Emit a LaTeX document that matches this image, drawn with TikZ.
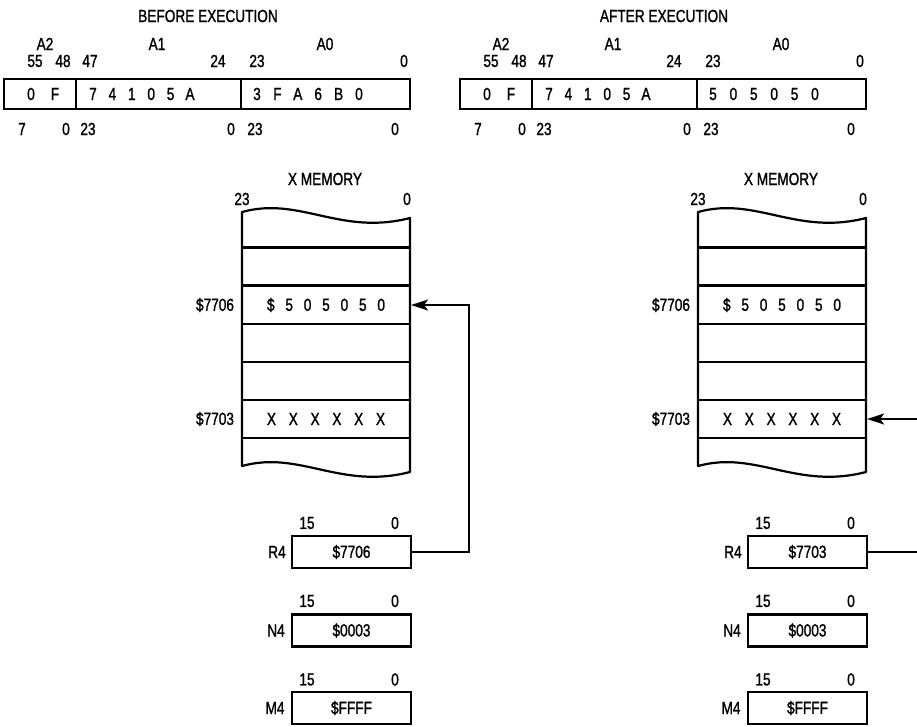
\documentclass[tikz,border=0pt]{standalone}
\usepackage{fontspec}
\setmainfont{Liberation Sans}[FakeStretch=0.78,FakeBold=1.2]
\usetikzlibrary{arrows.meta}
\newlength\cellw
\newcommand\cl[1]{\makebox[\cellw]{#1}}
\newcommand\fs{\fontsize{17.5}{20}\selectfont}
\tikzset{
  lbl/.style={inner sep=0pt, font=\fs},
  field/.style={draw, line width=2.2pt, minimum height=30pt, inner sep=0pt},
  memrow/.style={draw, line width=2.2pt, minimum width=168pt, minimum height=38pt, inner sep=0pt, font=\fs},
  regbox/.style={draw, line width=2.2pt, minimum width=119pt, minimum height=32pt, inner sep=0pt, font=\fs},
  memline/.style={line width=2.2pt, line join=round},
  conn/.style={line width=2pt, -{Stealth[length=17pt,width=11pt,inset=4pt]}},
}
% #1 suffix, #2 title, #3 A0 digits, #4 R4 value, #5 xshift
\newcommand\panel[5]{%
\begin{scope}[xshift=#5]
  \node[lbl] (title#1) at (208,16) {#2};
  \node[lbl] (a2#1) at (45,44) {A2};
  \node[lbl] (a1#1) at (157,44) {A1};
  \node[lbl] (a0#1) at (325,44) {A0};
  \node[lbl] (t55#1) at (35,61) {55};
  \node[lbl] (t48#1) at (63,61) {48};
  \node[lbl] (t47#1) at (90,61) {47};
  \node[lbl] (t24#1) at (218,61) {24};
  \node[lbl] (t23#1) at (257,61) {23};
  \node[lbl] (t0#1) at (404,61) {0};
  \node[field, minimum width=72pt] (fa2#1) at (40,94) {};
  \node[field, minimum width=165pt] (fa1#1) at (158.5,94) {};
  \node[field, minimum width=169pt] (fa0#1) at (325.5,94) {};
  \node[lbl] (da2#1) at (43,94) {\setlength\cellw{24pt}\cl{0}\cl{F}};
  \node[lbl] (da1#1) at (141.5,94) {\setlength\cellw{19.4pt}\cl{7}\cl{4}\cl{1}\cl{0}\cl{5}\cl{A}};
  \node[lbl] (da0#1) at (308,94) {\setlength\cellw{20.4pt}#3};
  \node[lbl] (b7#1) at (22,129) {7};
  \node[lbl] (b0a#1) at (66,129) {0};
  \node[lbl] (b23a#1) at (88,129) {23};
  \node[lbl] (b0b#1) at (231,129) {0};
  \node[lbl] (b23b#1) at (255,129) {23};
  \node[lbl] (b0c#1) at (395,129) {0};
  % X memory
  \node[lbl] (xm#1) at (325,179) {X MEMORY};
  \node[lbl] (m23#1) at (242,199) {23};
  \node[lbl] (m0#1) at (407,199) {0};
  \draw[memline] (242,212) .. controls (300,196) and (340,236) .. (410,218)
     -- (410,472) .. controls (340,490) and (300,450) .. (242,466) -- cycle;
  \node[memrow] (r1#1) at (326,266.5) {};
  \node[memrow] (r2#1) at (326,305) {\setlength\cellw{18.4pt}\cl{\$}\cl{5}\cl{0}\cl{5}\cl{0}\cl{5}\cl{0}};
  \node[memrow] (r3#1) at (326,343) {};
  \node[memrow] (r4#1) at (326,381) {};
  \node[memrow] (r5#1) at (326,419) {\setlength\cellw{21.8pt}\cl{X}\cl{X}\cl{X}\cl{X}\cl{X}\cl{X}};
  \node[lbl] (ad6#1) at (215,305) {\$7706};
  \node[lbl] (ad3#1) at (215,419) {\$7703};
  % address registers
  \node[regbox] (R4#1) at (351.5,552) {#4};
  \node[regbox] (N4#1) at (351.5,630.5) {\$0003};
  \node[regbox] (M4#1) at (351.5,708) {\$FFFF};
  \node[lbl] (lR4#1) at (277,552) {R4};
  \node[lbl] (lN4#1) at (276,630.5) {N4};
  \node[lbl] (lM4#1) at (275,708) {M4};
  \node[lbl] (r15#1) at (307,523) {15};
  \node[lbl] (r0#1) at (395,523) {0};
  \node[lbl] (n15#1) at (307,601) {15};
  \node[lbl] (n0#1) at (395,601) {0};
  \node[lbl] (k15#1) at (307,679.5) {15};
  \node[lbl] (k0#1) at (395,679.5) {0};
\end{scope}}
\begin{document}
\begin{tikzpicture}[x=1pt, y=-1pt, font=\fs]
  \useasboundingbox (0,0) rectangle (917,726);
  \fill[white] (0,0) rectangle (917,726);
  \begin{scope}
    \clip (0,0) rectangle (917,726);
    \panel{L}{BEFORE EXECUTION}{\cl{3}\cl{F}\cl{A}\cl{6}\cl{B}\cl{0}}{\$7706}{0pt}
    \panel{R}{AFTER EXECUTION}{\cl{5}\cl{0}\cl{5}\cl{0}\cl{5}\cl{0}}{\$7703}{456pt}
    \draw[conn] (R4L.east) -- ++(57,0) |- (r2L.east);
    \draw[conn] (R4R.east) -- ++(80,0) |- (r5R.east);
  \end{scope}
\end{tikzpicture}
\end{document}
